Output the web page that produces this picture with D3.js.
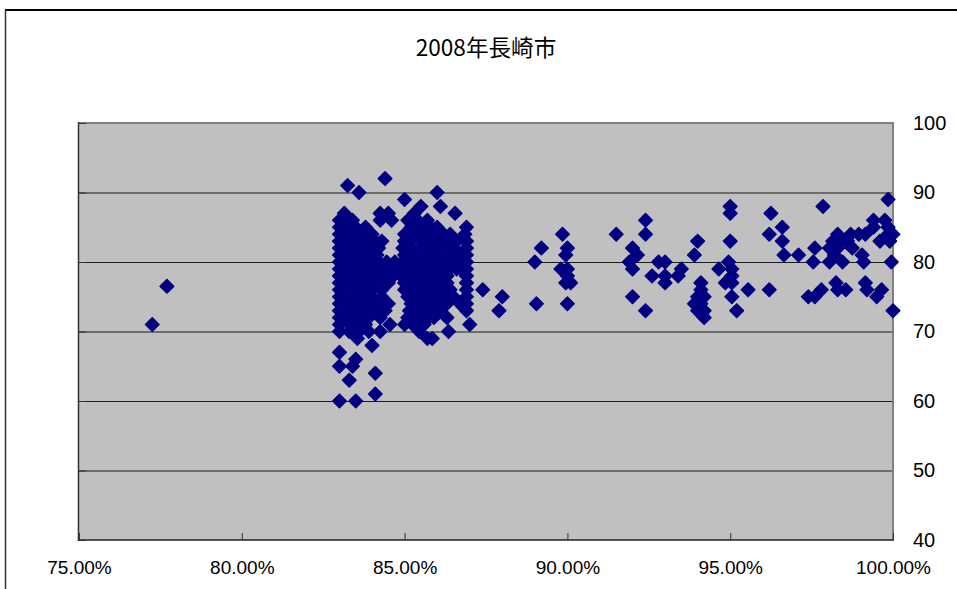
<!DOCTYPE html>
<html><head><meta charset="utf-8">
<script src="https://cdnjs.cloudflare.com/ajax/libs/d3/7.8.5/d3.min.js"></script>
<style>html,body{margin:0;padding:0;background:#fff}svg{display:block}</style>
</head><body><svg id="c" width="957" height="589"></svg>
<script>
const chartTitle = "2008年長崎市";
const xTicks = [75, 80, 85, 90, 95, 100];
const yTicks = [40, 50, 60, 70, 80, 90, 100];
const levels = [92,91,90,89,88,87,86,85,84,83,82,81,80,79,78,77,76.5,76,75,74,73,72,71,70,69,68,67,66,65,64,63,61,60];
const ratesAtLevel = [
 [84.4],
 [83.25],
 [83.6,86.0],
 [85.0,99.85],
 [85.5,86.1,95,97.85],
 [83.15,84.25,84.5,85.3,86.55,95,96.25],
 [83,83.2,83.4,84.25,84.6,85.1,85.4,85.7,92.4,99.4,99.75],
 [83,83.2,83.5,83.8,85.2,85.5,85.8,86.0,86.9,96.6,99.4,99.85],
 [83,83.2,83.4,83.7,84.0,85,85.3,85.6,85.9,86.2,86.4,86.85,89.85,91.5,92.4,96.2,98.3,98.7,98.95,99.15,99.85,100],
 [83,83.2,83.5,83.8,84.1,84.3,85,85.2,85.5,85.8,86.1,86.35,86.6,86.9,94.0,95,96.6,98.15,98.45,98.6,99.6,99.9],
 [83,83.2,83.4,83.7,83.9,84.2,84.95,85.2,85.5,85.7,86,86.3,86.5,86.9,89.2,90,92,97.6,98.05,98.3,98.75],
 [83,83.25,83.5,83.75,84,84.15,85,85.25,85.5,85.75,86,86.25,86.5,86.7,86.9,89.95,92.15,93.9,96.65,97.1,98.2,99.05],
 [83,83.2,83.4,83.6,83.8,84,84.2,84.45,84.7,84.95,85.2,85.4,85.6,85.8,86,86.2,86.4,86.6,86.75,86.9,89,91.9,92.8,93,94.95,97.55,98.05,98.45,99.1,99.95],
 [83,83.25,83.5,83.75,84,84.25,84.5,84.75,85,85.2,85.4,85.6,85.8,86,86.2,86.4,86.6,86.75,86.9,89.8,90,92,93.5,94.65,95.05],
 [83,83.2,83.45,83.7,83.95,84.2,84.45,84.65,84.9,85.1,85.3,85.5,85.7,85.9,86.1,86.3,86.9,90,92.6,93,93.4,95.05],
 [83,83.3,83.55,83.8,84.05,84.3,84.5,85,85.2,85.4,85.6,85.8,86,86.15,86.3,86.9,89.95,90.1,93,94.1,94.85,95.05,98.25,99.15],
 [77.7],
 [83,83.25,83.5,83.75,84,84.3,85,85.25,85.5,85.75,86,86.2,86.4,86.9,87.4,94.1,95.55,96.2,97.8,98.3,98.55,99.2,99.65],
 [83,83.2,83.5,83.75,84,84.3,85.1,85.35,85.6,85.85,86.1,86.3,86.5,86.9,88,92,94,94.2,95.05,97.4,97.6,99.5],
 [83,83.25,83.5,83.75,84,84.25,84.5,85.2,85.4,85.65,85.9,86.1,86.3,86.7,86.9,89.05,90,93.9,94.1],
 [83,83.3,83.6,83.85,84.15,84.4,85.15,85.4,85.65,85.9,86.05,86.9,87.9,92.4,94,94.2,95.2,100],
 [83,83.2,83.45,83.7,83.9,84.25,85.1,85.3,85.5,85.75,85.9,86.3,94.2],
 [77.25,83,83.3,83.55,83.8,84.55,85,85.25,85.45,85.6,87],
 [83,83.3,83.6,83.9,84.25,85.45,86.35],
 [83.55,85.7,85.85],
 [84.0],
 [83.0],
 [83.5],
 [83,83.4],
 [84.1],
 [83.3],
 [84.1],
 [83,83.5]
];
const svg = d3.select("#c");
const L = 79, R = 893, T = 123, B = 540;
const x = d3.scaleLinear().domain([75, 100]).range([L, R]);
const y = d3.scaleLinear().domain([40, 100]).range([B, T]);
const sans = "'Liberation Sans', Arial, sans-serif";

// outer chart border
svg.append("line").attr("x1",5).attr("x2",957).attr("y1",10).attr("y2",10).attr("stroke","#000").attr("stroke-width",2);
svg.append("line").attr("x1",5.5).attr("x2",5.5).attr("y1",10).attr("y2",589).attr("stroke","#333").attr("stroke-width",1.5);

svg.append("text").attr("x",486).attr("y",56).attr("text-anchor","middle")
  .attr("font-family","'Noto Sans CJK JP'").attr("font-size",22.6).attr("fill","#000").text(chartTitle);

svg.append("rect").attr("x",L).attr("y",T).attr("width",R-L).attr("height",B-T).attr("fill","#c0c0c0");

// gridlines
svg.append("g").attr("transform",`translate(${L},0)`)
  .call(d3.axisLeft(y).tickValues(yTicks.slice(1,-1)).tickSize(-(R-L)).tickFormat(""))
  .call(g=>g.select(".domain").remove())
  .call(g=>g.selectAll("line").attr("stroke","#1a1a1a").attr("stroke-width",1.2));

// frame
svg.append("line").attr("x1",L-1).attr("x2",R+1).attr("y1",T).attr("y2",T).attr("stroke","#808080").attr("stroke-width",2);
svg.append("line").attr("x1",R).attr("x2",R).attr("y1",T).attr("y2",B).attr("stroke","#808080").attr("stroke-width",2);
svg.append("line").attr("x1",L-.5).attr("x2",L-.5).attr("y1",T-1).attr("y2",B+1).attr("stroke","#333").attr("stroke-width",1.5);
svg.append("line").attr("x1",L-1).attr("x2",R+1).attr("y1",B).attr("y2",B).attr("stroke","#222").attr("stroke-width",1.5);

// inner tick marks
svg.append("g").attr("transform",`translate(0,${B})`)
  .call(d3.axisBottom(x).tickValues(xTicks).tickSize(-7).tickFormat(""))
  .call(g=>g.select(".domain").remove())
  .call(g=>g.selectAll("line").attr("stroke","#333"));
svg.append("g").attr("transform",`translate(${L},0)`)
  .call(d3.axisLeft(y).tickValues(yTicks).tickSize(-7).tickFormat(""))
  .call(g=>g.select(".domain").remove())
  .call(g=>g.selectAll("line").attr("stroke","#333"));

// tick labels
svg.append("g").attr("transform",`translate(0,${B})`)
  .call(d3.axisBottom(x).tickValues(xTicks).tickSize(0).tickPadding(21).tickFormat(d=>d.toFixed(2)+"%"))
  .call(g=>g.select(".domain").remove())
  .call(g=>g.selectAll("text").attr("font-family",sans).attr("font-size",19).attr("fill","#000"));
svg.append("g").attr("transform",`translate(${R},0)`)
  .call(d3.axisRight(y).tickValues(yTicks).tickSize(0).tickPadding(20).tickFormat(d3.format("d")))
  .call(g=>g.select(".domain").remove())
  .call(g=>g.selectAll("text").attr("font-family",sans).attr("font-size",20).attr("fill","#000"));

// points
const diamond = d3.symbol().type(d3.symbolSquare).size(90)();
const points = levels.flatMap((lv,i)=>ratesAtLevel[i].map(r=>({r,lv})));
svg.append("g").selectAll("path").data(points).join("path")
  .attr("d",diamond)
  .attr("transform",d=>`translate(${x(d.r)},${y(d.lv)}) rotate(45)`)
  .attr("fill","#000080")
  .attr("stroke","#000080")
  .attr("stroke-width",1.6)
  .attr("stroke-linejoin","round");
</script></body></html>
